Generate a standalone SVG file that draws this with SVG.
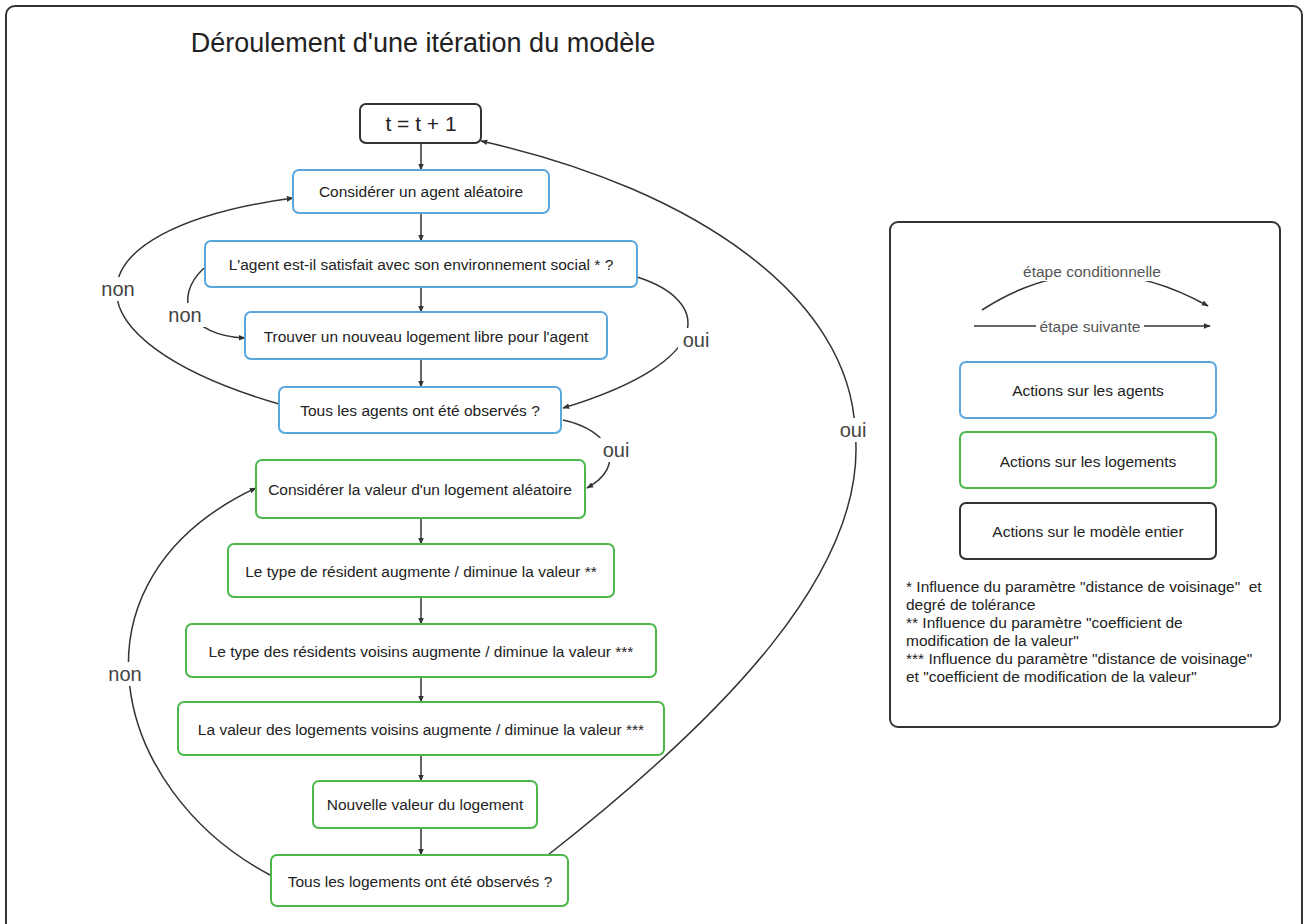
<svg xmlns="http://www.w3.org/2000/svg" width="1307" height="924" viewBox="0 0 1307 924">
<defs>
<marker id="arr" viewBox="0 0 10 10" refX="9" refY="5" markerWidth="7" markerHeight="7" orient="auto" markerUnits="userSpaceOnUse">
<path d="M0,1 L10,5 L0,9 z" fill="#333"/>
</marker>
<style>
.t{font-family:"Liberation Sans",Arial,sans-serif;fill:#222;text-anchor:middle}
.n{font-size:15.5px}
.blue{fill:#fff;stroke:#5aa7de;stroke-width:2}
.green{fill:#fff;stroke:#4cb84c;stroke-width:2}
.black{fill:#fff;stroke:#333;stroke-width:2}
.c{fill:none;stroke:#333;stroke-width:1.5}
.lbl{font-family:"Liberation Sans",Arial,sans-serif;font-size:20px;fill:#444;text-anchor:middle}
.foot{font-family:"Liberation Sans",Arial,sans-serif;font-size:15.5px;fill:#222}
.lg{font-family:"Liberation Sans",Arial,sans-serif;font-size:15.5px;fill:#555;text-anchor:middle}
</style>
</defs>
<rect x="0" y="0" width="1307" height="924" fill="#fff"/>
<rect x="6" y="6" width="1296" height="940" rx="9" fill="none" stroke="#333" stroke-width="2"/>
<text x="423" y="52" class="t" style="font-size:27px">Déroulement d'une itération du modèle</text>

<g id="connectors">
<path class="c" d="M421,143 L421,170" marker-end="url(#arr)"/>
<path class="c" d="M421,213 L421,241" marker-end="url(#arr)"/>
<path class="c" d="M421,287 L421,312" marker-end="url(#arr)"/>
<path class="c" d="M421,359 L421,387" marker-end="url(#arr)"/>
<path class="c" d="M421,518 L421,544" marker-end="url(#arr)"/>
<path class="c" d="M421,597 L421,624" marker-end="url(#arr)"/>
<path class="c" d="M421,677 L421,702" marker-end="url(#arr)"/>
<path class="c" d="M421,755 L421,781" marker-end="url(#arr)"/>
<path class="c" d="M421,828 L421,855" marker-end="url(#arr)"/>
<path class="c" d="M279,404 C60,340 60,230 293,198" marker-end="url(#arr)"/>
<path class="c" d="M204,268 C172,298 188,336 245,338" marker-end="url(#arr)"/>
<path class="c" d="M637,277 C710,300 720,360 563,408" marker-end="url(#arr)"/>
<path class="c" d="M563,420 C610,430 628,465 587,488" marker-end="url(#arr)"/>
<path class="c" d="M548,855 C720,720 870,570 855,430 C850,300 700,190 481,141" marker-end="url(#arr)"/>
<path class="c" d="M270,875 C110,790 60,580 256,488" marker-end="url(#arr)"/>
<rect x="96" y="277" width="44" height="24" fill="#fff"/>
<text x="118" y="296" class="lbl">non</text>
<rect x="163" y="303" width="44" height="24" fill="#fff"/>
<text x="185" y="322" class="lbl">non</text>
<rect x="678" y="328" width="36" height="24" fill="#fff"/>
<text x="696" y="347" class="lbl">oui</text>
<rect x="598" y="438" width="36" height="24" fill="#fff"/>
<text x="616" y="457" class="lbl">oui</text>
<rect x="835" y="418" width="36" height="24" fill="#fff"/>
<text x="853" y="437" class="lbl">oui</text>
<rect x="103" y="662" width="44" height="24" fill="#fff"/>
<text x="125" y="681" class="lbl">non</text>
</g>

<g id="n1"><rect x="360" y="104" width="121" height="39" rx="6" class="black"/><text x="421" y="131" class="t" style="font-size:21px">t = t + 1</text></g>
<g id="n2"><rect x="293" y="170" width="256" height="43" rx="6" class="blue"/><text x="421" y="197" class="t n">Considérer un agent aléatoire</text></g>
<g id="n3"><rect x="205" y="241" width="432" height="46" rx="6" class="blue"/><text x="421" y="270" class="t n">L'agent est-il satisfait avec son environnement social * ?</text></g>
<g id="n4"><rect x="245" y="312" width="362" height="47" rx="6" class="blue"/><text x="426" y="342" class="t n">Trouver un nouveau logement libre pour l'agent</text></g>
<g id="n5"><rect x="279" y="387" width="282" height="46" rx="6" class="blue"/><text x="420" y="416" class="t n">Tous les agents ont été observés ?</text></g>
<g id="n6"><rect x="256" y="460" width="329" height="58" rx="6" class="green"/><text x="420" y="495" class="t n">Considérer la valeur d'un logement aléatoire</text></g>
<g id="n7"><rect x="228" y="544" width="386" height="53" rx="6" class="green"/><text x="421" y="577" class="t n">Le type de résident augmente / diminue la valeur **</text></g>
<g id="n8"><rect x="186" y="624" width="470" height="53" rx="6" class="green"/><text x="421" y="657" class="t n">Le type des résidents voisins augmente / diminue la valeur ***</text></g>
<g id="n9"><rect x="178" y="702" width="486" height="53" rx="6" class="green"/><text x="421" y="735" class="t n">La valeur des logements voisins augmente / diminue la valeur ***</text></g>
<g id="n10"><rect x="313" y="781" width="224" height="47" rx="6" class="green"/><text x="425" y="810" class="t n">Nouvelle valeur du logement</text></g>
<g id="n11"><rect x="271" y="855" width="297" height="51" rx="6" class="green"/><text x="420" y="887" class="t n">Tous les logements ont été observés ?</text></g>

<g id="legend">
<rect x="890" y="222" width="390" height="505" rx="8" fill="#fff" stroke="#333" stroke-width="2"/>
<path class="c" d="M982,310 Q1090,240 1208,306" marker-end="url(#arr)"/>
<rect x="1022" y="261" width="140" height="20" fill="#fff"/>
<text x="1092" y="277" class="lg">étape conditionnelle</text>
<path class="c" d="M974,326 L1210,326" marker-end="url(#arr)"/>
<rect x="1036" y="317" width="108" height="20" fill="#fff"/>
<text x="1090" y="332" class="lg">étape suivante</text>
<rect x="960" y="362" width="256" height="56" rx="6" class="blue"/>
<text x="1088" y="396" class="t n">Actions sur les agents</text>
<rect x="960" y="432" width="256" height="56" rx="6" class="green"/>
<text x="1088" y="467" class="t n">Actions sur les logements</text>
<rect x="960" y="503" width="256" height="56" rx="6" class="black"/>
<text x="1088" y="537" class="t n">Actions sur le modèle entier</text>
<text class="foot"><tspan x="906" y="592">* Influence du paramètre "distance de voisinage"&#160; et</tspan><tspan x="906" y="610">degré de tolérance</tspan><tspan x="906" y="628">** Influence du paramètre "coefficient de</tspan><tspan x="906" y="646">modification de la valeur"</tspan><tspan x="906" y="664">*** Influence du paramètre "distance de voisinage"</tspan><tspan x="906" y="682">et "coefficient de modification de la valeur"</tspan></text>
</g>
</svg>
